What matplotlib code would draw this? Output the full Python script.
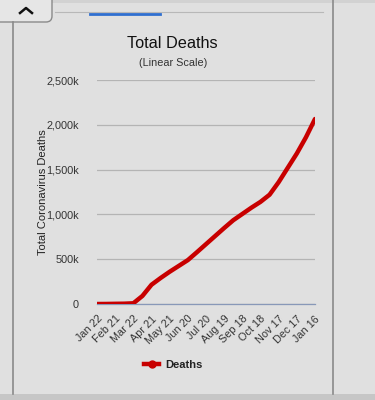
import matplotlib
matplotlib.use("Agg")
from matplotlib import pyplot as plt
from matplotlib.lines import Line2D
from matplotlib.patches import FancyBboxPatch, Rectangle
import matplotlib.dates as mdates
import numpy as np

plt.rcParams['font.family'] = ['Liberation Sans', 'DejaVu Sans']

# world coronavirus deaths
dates = np.array([
    '2020-01-22', '2020-02-06', '2020-02-21', '2020-03-07', '2020-03-22',
    '2020-04-06', '2020-04-21', '2020-05-06', '2020-05-21', '2020-06-05',
    '2020-06-20', '2020-07-05', '2020-07-20', '2020-08-04', '2020-08-19',
    '2020-09-03', '2020-09-18', '2020-10-03', '2020-10-18', '2020-11-02',
    '2020-11-17', '2020-12-02', '2020-12-17', '2021-01-01', '2021-01-16',
], dtype='datetime64[D]')
deaths = [
    17, 565, 2250, 3500, 8000,
    90000, 215000, 290000, 360000, 425000,
    490000, 578000, 668000, 758000, 848000,
    935000, 1005000, 1075000, 1140000, 1220000,
    1360000, 1520000, 1680000, 1860000, 2065000,
]
tick_dates = np.array([
    '2020-01-22', '2020-02-21', '2020-03-22', '2020-04-21', '2020-05-21',
    '2020-06-20', '2020-07-20', '2020-08-19', '2020-09-18', '2020-10-18',
    '2020-11-17', '2020-12-17', '2021-01-16',
], dtype='datetime64[D]')
y_ticks = [0, 500000, 1000000, 1500000, 2000000, 2500000]
y_labels = ['0', '500k', '1,000k', '1,500k', '2,000k', '2,500k']

W, H = 375, 400
bg = '#e0e0e0'
fig = plt.figure(figsize=(W / 100, H / 100), dpi=100, facecolor=bg)


def fx(px):
    return px / W


def fy(py):
    return 1 - py / H


# page chrome around the card
fig.add_artist(Rectangle((0, 0), 1, fy(394), transform=fig.transFigure,
                         facecolor='#c6c6c6', edgecolor='none'))
fig.add_artist(Rectangle((0, fy(3)), 1, 3 / H, transform=fig.transFigure,
                         facecolor='#d2d2d2', edgecolor='none'))
fig.add_artist(Line2D([fx(13), fx(13)], [fy(22), fy(394)], transform=fig.transFigure,
                      color='#8a8a8a', lw=1.2))
fig.add_artist(Line2D([fx(333), fx(333)], [fy(0), fy(394)], transform=fig.transFigure,
                      color='#8a8a8a', lw=1.2))
fig.add_artist(Line2D([fx(55), fx(323)], [fy(12), fy(12)], transform=fig.transFigure,
                      color='#b8b8b8', lw=0.8))
fig.add_artist(Line2D([fx(90), fx(160)], [fy(14), fy(14)], transform=fig.transFigure,
                      color='#2f6fd0', lw=2))
fig.add_artist(FancyBboxPatch((-6, 400 - 22), 58, 30,
                              boxstyle='round,pad=0,rounding_size=6',
                              transform=None, facecolor='#e6e6e6',
                              edgecolor='#8a8a8a', lw=1))
fig.add_artist(Line2D([fx(20), fx(26), fx(32)], [fy(13), fy(8), fy(13)],
                      transform=fig.transFigure, color='#111111', lw=1.8))

fig.text(fx(172), fy(44), 'Total Deaths', ha='center', va='center',
         fontsize=11.7, color='#111111')
fig.text(fx(173), fy(63), '(Linear Scale)', ha='center', va='center',
         fontsize=7.8, color='#333333')
fig.text(fx(43), fy(192), 'Total Coronavirus Deaths', ha='center', va='center',
         rotation=90, fontsize=8, color='#222222')

ax = fig.add_axes([fx(97), fy(304), fx(315) - fx(97), (304 - 80) / H])
ax.set_facecolor(bg)
ax.plot(dates, deaths, color='#c80000', lw=3.2, solid_capstyle='round',
        label='Deaths', zorder=3)
ax.set_xlim(dates[0], dates[-1])
ax.set_ylim(0, 2500000)
ax.set_yticks(y_ticks)
ax.set_yticklabels(y_labels)
ax.set_xticks(tick_dates)
ax.xaxis.set_major_formatter(mdates.DateFormatter('%b %d'))
ax.grid(axis='y', color='#b4b4b4', lw=0.9)
for s in ['top', 'right', 'left']:
    ax.spines[s].set_visible(False)
ax.spines['bottom'].set_color('#8898b8')
ax.spines['bottom'].set_linewidth(0.9)
ax.tick_params(axis='both', length=0, labelsize=7.8, labelcolor='#333333')
ax.tick_params(axis='y', pad=13)
ax.tick_params(axis='x', pad=7)
for lab in ax.get_xticklabels():
    lab.set_rotation(45)
    lab.set_ha('right')
    lab.set_va('top')
    lab.set_rotation_mode('anchor')

leg_line = Line2D([], [], color='#c80000', lw=3.2, marker='o', markersize=5)
fig.legend([leg_line], ['Deaths'], loc='center', bbox_to_anchor=(fx(173), fy(365)),
           frameon=False, prop={'weight': 'bold', 'size': 8},
           handlelength=1.4, handletextpad=0.5, labelcolor='#222222')

fig.savefig('out.png', dpi=100, facecolor=bg)
